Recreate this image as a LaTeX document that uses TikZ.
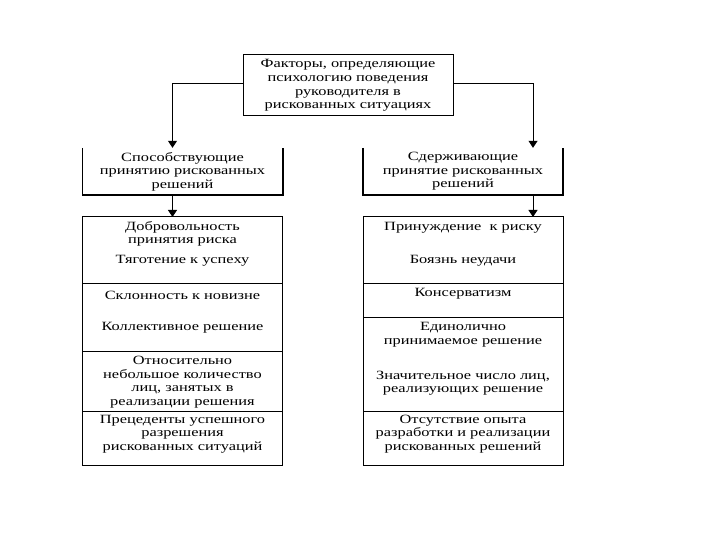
\documentclass[tikz,border=0pt]{standalone}
\usepackage{fontspec}
\setmainfont[FakeStretch=1.3]{Liberation Serif}
\usetikzlibrary{positioning,arrows.meta}

\begin{document}
\begin{tikzpicture}[x=1pt, y=-1pt,
	every node/.style={font=\fontsize{12.6}{13.6}\selectfont, align=center},
	part/.style={draw, line width=1pt, minimum width=200pt, inner sep=0pt, outer sep=0pt},
	head/.style={minimum width=200pt, minimum height=47pt, inner sep=0pt},
	arr/.style={line width=1pt, -{Triangle[width=9pt,length=7pt]}}]
	\useasboundingbox (0,0) rectangle (720,540);
	\node[draw, line width=1pt, minimum width=210pt, minimum height=61pt, inner sep=0pt] (factors) at (348,85.5)
		{Факторы, определяющие\\психологию поведения\\руководителя в\\рискованных ситуациях};
	% second level, boxes open at the top
	\node[head] (lsup) at (182.5,171.5) {Способствующие\\принятию рискованных\\решений};
	\node[head] (rsup) at (463,171.5) {Сдерживающие\\принятие рискованных\\решений};
	\draw[line width=1.6pt] (lsup.north west) -- (lsup.south west) -- (lsup.south east) -- (lsup.north east);
	\draw[line width=1.6pt] (rsup.north west) -- (rsup.south west) -- (rsup.south east) -- (rsup.north east);
	% left column
	\node[part, minimum height=66pt] (lf1) at (182.5,250) {};
	\node[part, minimum height=68pt, below=0pt of lf1] (lf2) {};
	\node[part, minimum height=60pt, below=0pt of lf2] (lf3) {};
	\node[part, minimum height=54pt, below=0pt of lf3] (lf4) {};
	\node (lvol) at (182.5,234) {Добровольность\\принятия риска};
	\node (lsucc) at (182.5,261) {Тяготение к успеху};
	\node (lnew) at (182.5,295) {Склонность к новизне};
	\node (lcoll) at (182.5,328) {Коллективное решение};
	\node (lfew) at (182.5,382) {Относительно\\небольшое количество\\лиц, занятых в\\реализации решения};
	\node (lprec) at (182.5,434) {Прецеденты успешного\\разрешения\\рискованных ситуаций};
	% right column
	\node[part, minimum height=66pt] (rf1) at (463,250) {};
	\node[part, minimum height=34pt, below=0pt of rf1] (rf2) {};
	\node[part, minimum height=94pt, below=0pt of rf2] (rf3) {};
	\node[part, minimum height=54pt, below=0pt of rf3] (rf4) {};
	\node (rforce) at (463,228) {Принуждение~ к риску};
	\node (rfear) at (463,261) {Боязнь неудачи};
	\node (rcons) at (463,294) {Консерватизм};
	\node (rsole) at (463,334.5) {Единолично\\принимаемое решение};
	\node (rmany) at (463,383) {Значительное число лиц,\\реализующих решение};
	\node (rexp) at (463,434) {Отсутствие опыта\\разработки и реализации\\рискованных решений};
	% arrows
	\draw[arr] ([yshift=2pt]factors.west) -| ([xshift=-10pt]lsup.north);
	\draw[arr] ([yshift=2pt]factors.east) -| ([xshift=70pt]rsup.north);
	\draw[arr] ([xshift=-10pt]lsup.south) -- ([xshift=-10pt]lf1.north);
	\draw[arr] ([xshift=70pt]rsup.south) -- ([xshift=70pt]rf1.north);
\end{tikzpicture}
\end{document}
